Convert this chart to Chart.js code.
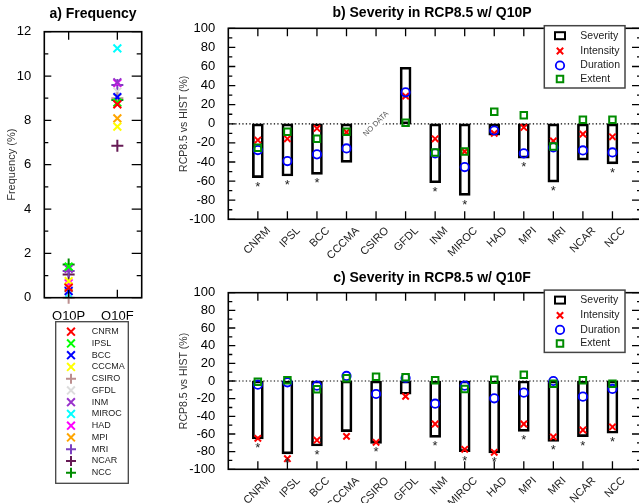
<!DOCTYPE html>
<html><head><meta charset="utf-8">
<script src="https://cdn.jsdelivr.net/npm/chart.js@4/dist/chart.umd.min.js"></script>
<style>
html,body{margin:0;padding:0;overflow:hidden;background:#fff;width:639px;height:503px;}
#wrap{position:absolute;left:0;top:0;width:639px;height:503px;overflow:hidden;background:#fff;}
canvas{position:absolute;}
#ca{left:0;top:0;}
#cb{left:170px;top:0;}
#cc{left:170px;top:265px;}
</style></head><body>
<div id="wrap">
<canvas id="ca" width="165" height="503"></canvas>
<canvas id="cb" width="480" height="270"></canvas>
<canvas id="cc" width="480" height="238"></canvas>
</div>
<script>
// ---------------- data ----------------
const models = ['CNRM','IPSL','BCC','CCCMA','CSIRO','GFDL','INM','MIROC','HAD','MPI','MRI','NCAR','NCC'];
const modelColors = ['#ff0000','#00ff00','#0000ff','#ffff00','#bc8f8f','#dcdcdc','#9932cc','#00ffff','#ff00ff','#ffa500','#7b3fbf','#661a55','#008c00'];
const modelMarkers = ['crossRot','crossRot','crossRot','crossRot','cross','crossRot','crossRot','crossRot','crossRot','crossRot','cross','cross','cross'];

const freqCats = ['Q10P','Q10F'];
const freqQ10P = [0.45, 1.4, 0.3, 0.75, 0.0, 0.35, 1.3, 0.15, 0.65, 0.5, 1.2, 1.05, 1.5];
const freqQ10F = [8.72, 8.8, 9.05, 7.72, 9.0, 9.3, 9.72, 11.25, 9.68, 8.09, 9.6, 6.86, 8.92];

const yTicksFreq = {min:0, max:12, step:2, minor:1};
const yTicksSev = {min:-100, max:100, step:20, minor:10};

// Panel b: Q10P (CSIRO: no data)
const sevP = [-56.4, -54.7, -53.0, -40.4, null, 59.2, -61.7, -75.0, -11.8, -36.0, -61.0, -38.0, -42.0];
const intP = [-17.0, -15.7, -4.9, -8.7, null, 29.0, -15.7, -29.0, -10.0, -3.8, -18.0, -10.8, -13.6];
const durP = [-27.5, -39.0, -32.0, -25.8, null, 33.0, -31.0, -45.3, -7.0, -31.0, -24.7, -27.9, -30.0];
const extP = [-25.0, -8.4, -15.7, -8.4, null, 1.0, -30.0, -29.0, 12.5, 9.0, -23.7, 4.2, 4.2];
const sigP = [1,1,1,0,0,0,1,1,0,1,1,0,1];

// Panel c: Q10F
const sevF = [-65.7, -82.6, -73.6, -57.4, -70.6, -15.0, -63.8, -80.0, -81.5, -57.0, -68.3, -63.0, -59.2];
const intF = [-65.0, -88.0, -67.0, -62.7, -69.4, -17.4, -48.7, -77.4, -80.8, -48.7, -63.4, -55.5, -52.0];
const durF = [-4.2, -1.5, -5.3, 5.7, -14.7, 3.4, -25.7, -5.3, -19.6, -13.2, 0.0, -17.7, -9.0];
const extF = [-0.8, 0.8, -9.4, 3.0, 4.9, 4.2, 0.8, -9.0, 1.5, 7.2, -3.0, 0.8, -3.0];
const sigF = [1,1,1,0,1,0,1,1,1,1,1,1,1];

// ---------------- helpers / plugins ----------------
Chart.defaults.font.family = "'Liberation Sans', Arial, Helvetica, sans-serif";
Chart.defaults.color = '#000';
const FAM = "'Liberation Sans', Arial, Helvetica, sans-serif";
const pad = arr => [null, ...arr, null];

const framePlugin = {
  id: 'frame',
  afterDatasetsDraw(chart, args, o) {
    const {ctx, chartArea: a, scales} = chart;
    const y = scales.y, x = scales.x;
    ctx.save();
    ctx.strokeStyle = '#000';
    ctx.lineWidth = 1.6;
    ctx.strokeRect(a.left, a.top, a.right - a.left, a.bottom - a.top);
    ctx.lineWidth = 1.3;
    ctx.beginPath();
    for (let v = o.min; v <= o.max + 1e-9; v += o.minor) {
      const py = y.getPixelForValue(v);
      const major = Math.abs(Math.round(v / o.step) * o.step - v) < 1e-6;
      const lenL = major ? 7 : 4, lenR = major ? 10 : 5;
      ctx.moveTo(a.left, py); ctx.lineTo(a.left + lenL, py);
      ctx.moveTo(a.right, py); ctx.lineTo(a.right - lenR, py);
    }
    x.ticks.forEach((t, i) => {
      if (!x.getLabelForValue(t.value)) return;
      const px = x.getPixelForTick(i);
      ctx.moveTo(px, a.top); ctx.lineTo(px, a.top + 8);
      ctx.moveTo(px, a.bottom); ctx.lineTo(px, a.bottom - 8);
    });
    ctx.stroke();
    ctx.restore();
  }
};

const titlePlugin = {
  id: 'ptitle',
  afterDraw(chart, args, o) {
    const ctx = chart.ctx;
    ctx.save();
    ctx.font = 'bold 14px ' + FAM;
    ctx.fillStyle = '#000';
    ctx.textAlign = 'center';
    ctx.textBaseline = 'middle';
    ctx.fillText(o.text, o.x, o.y);
    ctx.restore();
  }
};

const zeroPlugin = {
  id: 'zeroLine',
  beforeDatasetsDraw(chart) {
    const {ctx, chartArea: a, scales} = chart;
    const py = scales.y.getPixelForValue(0);
    ctx.save();
    ctx.strokeStyle = '#000';
    ctx.lineWidth = 1.2;
    ctx.setLineDash([1.3, 2.2]);
    ctx.beginPath();
    ctx.moveTo(a.left, py); ctx.lineTo(a.right, py);
    ctx.stroke();
    ctx.restore();
  }
};

const noDataPlugin = {
  id: 'noData',
  afterDatasetsDraw(chart, args, o) {
    const {ctx, scales} = chart;
    o.sev.forEach((v, i) => {
      if (v !== null) return;
      const px = scales.x.getPixelForValue(i + 1);
      const py = scales.y.getPixelForValue(0);
      ctx.save();
      ctx.translate(px, py);
      ctx.rotate(-Math.PI / 4);
      ctx.font = '7.5px ' + FAM;
      const w = ctx.measureText('NO DATA').width;
      ctx.fillStyle = '#fff';
      ctx.fillRect(-w / 2 - 2, -5, w + 4, 10);
      ctx.fillStyle = '#555';
      ctx.textAlign = 'center';
      ctx.textBaseline = 'middle';
      ctx.fillText('NO DATA', 0, 0);
      ctx.restore();
    });
  }
};

const starPlugin = {
  id: 'stars',
  afterDatasetsDraw(chart, args, o) {
    const {ctx} = chart;
    const meta = chart.getDatasetMeta(0);
    ctx.save();
    ctx.font = '13px ' + FAM;
    ctx.fillStyle = '#222';
    ctx.textAlign = 'center';
    ctx.textBaseline = 'top';
    o.sig.forEach((s, i) => {
      if (!s) return;
      const el = meta.data[i + 1];
      if (!el) return;
      const bottom = Math.max(el.y, el.base);
      ctx.fillText('*', el.x, bottom + 3);
    });
    ctx.restore();
  }
};

const sevLegendPlugin = {
  id: 'sevLegend',
  afterDraw(chart, args, o) {
    const {ctx, chartArea: a} = chart;
    const left = o.left, top = a.top + o.dy;
    ctx.save();
    ctx.fillStyle = '#fff';
    ctx.fillRect(left, top, o.w, o.h);
    ctx.strokeStyle = '#444';
    ctx.lineWidth = 1.5;
    ctx.strokeRect(left, top, o.w, o.h);
    chart.data.datasets.forEach((ds, i) => {
      const ry = top + o.rows[i];
      const mx = left + 15.7;
      if (ds.type === 'bar') {
        ctx.strokeStyle = '#000';
        ctx.lineWidth = 2;
        ctx.strokeRect(mx - 5, ry - 3.5, 10, 7);
      } else {
        ctx.strokeStyle = ds.pointBorderColor;
        ctx.fillStyle = 'rgba(0,0,0,0)';
        ctx.lineWidth = ds.pointBorderWidth;
        Chart.helpers.drawPoint(ctx, {pointStyle: ds.pointStyle, radius: ds.pointRadius, borderWidth: ds.pointBorderWidth, rotation: 0}, mx, ry);
      }
      ctx.fillStyle = '#222';
      ctx.font = '10.5px ' + FAM;
      ctx.textAlign = 'left';
      ctx.textBaseline = 'middle';
      ctx.fillText(ds.label, left + 36, ry);
    });
    ctx.restore();
  }
};

const freqLegendPlugin = {
  id: 'freqLegend',
  afterDraw(chart, args, o) {
    const {ctx} = chart;
    ctx.save();
    ctx.fillStyle = '#fff';
    ctx.fillRect(o.left, o.top, o.w, o.h);
    ctx.strokeStyle = '#444';
    ctx.lineWidth = 1.3;
    ctx.strokeRect(o.left, o.top, o.w, o.h);
    chart.data.datasets.forEach((ds, i) => {
      const ry = o.top + 10 + i * 11.75;
      ctx.strokeStyle = ds.pointBorderColor;
      ctx.fillStyle = ds.pointBorderColor;
      ctx.lineWidth = 2;
      const r = ds.pointStyle === 'cross' ? 5 : 5.5;
      Chart.helpers.drawPoint(ctx, {pointStyle: ds.pointStyle, radius: r, borderWidth: 2, rotation: 0}, o.left + 15.3, ry);
      ctx.fillStyle = '#222';
      ctx.font = '9px ' + FAM;
      ctx.textAlign = 'left';
      ctx.textBaseline = 'middle';
      ctx.fillText(ds.label, o.left + 36, ry);
    });
    ctx.restore();
  }
};

// ---------------- panel a ----------------
new Chart(document.getElementById('ca'), {
  type: 'line',
  data: {
    labels: freqCats,
    datasets: models.map((m, i) => ({
      label: m,
      data: [freqQ10P[i], freqQ10F[i]],
      showLine: false,
      pointStyle: modelMarkers[i],
      pointRadius: modelMarkers[i] === 'cross' ? 6 : 5.5,
      pointBorderWidth: 2,
      pointBorderColor: modelColors[i],
      pointBackgroundColor: modelColors[i],
      clip: false
    }))
  },
  options: {
    responsive: false, animation: false, devicePixelRatio: 1,
    layout: {padding: {left: 0, right: 165 - 141.7, top: 31.7, bottom: 503 - 297.7 - 22}},
    plugins: {
      legend: {display: false}, tooltip: {enabled: false},
      frame: yTicksFreq,
      ptitle: {text: 'a) Frequency', x: 93, y: 14},
      freqLegend: {left: 55.7, top: 321.7, w: 72.6, h: 161.6}
    },
    scales: {
      x: {type: 'category', offset: true, grid: {display: false}, border: {display: false},
          ticks: {padding: 3, color: '#000', font: {size: 13}},
          afterFit: s => { s.height = 22; }},
      y: {min: yTicksFreq.min, max: yTicksFreq.max, grid: {display: false}, border: {display: false},
          ticks: {stepSize: yTicksFreq.step, autoSkip: false, padding: 5, color: '#000', font: {size: 13}},
          title: {display: true, text: 'Frequency (%)', color: '#333', font: {size: 11}, padding: {top: 5.4, bottom: 0}},
          afterFit: s => { s.width = 44.3; }}
    }
  },
  plugins: [framePlugin, titlePlugin, freqLegendPlugin]
});

// ---------------- panels b, c ----------------
function severityChart(id, H, top, sev, inten, dur, ext, sig, title) {
  const labels = ['', ...models, ''];
  return new Chart(document.getElementById(id), {
    type: 'bar',
    data: {
      labels,
      datasets: [
        {type: 'bar', label: 'Severity', data: pad(sev), backgroundColor: 'rgba(0,0,0,0)', borderColor: '#000',
         borderWidth: 2, borderSkipped: false, barThickness: 11, order: 10},
        {type: 'line', label: 'Intensity', data: pad(inten), showLine: false, pointStyle: 'crossRot', pointRadius: 4.5,
         pointBorderWidth: 2, pointBorderColor: '#ff0000', pointBackgroundColor: 'rgba(0,0,0,0)', order: 3},
        {type: 'line', label: 'Duration', data: pad(dur), showLine: false, pointStyle: 'circle', pointRadius: 4.2,
         pointBorderWidth: 1.8, pointBorderColor: '#0000ff', pointBackgroundColor: 'rgba(0,0,0,0)', order: 2},
        {type: 'line', label: 'Extent', data: pad(ext), showLine: false, pointStyle: 'rect', pointRadius: 4.6,
         pointBorderWidth: 2, pointBorderColor: '#008c00', pointBackgroundColor: 'rgba(0,0,0,0)', order: 1}
      ]
    },
    options: {
      responsive: false, animation: false, devicePixelRatio: 1,
      layout: {padding: {left: 0, right: 8, top: top, bottom: 0}},
      plugins: {
        legend: {display: false}, tooltip: {enabled: false},
        frame: yTicksSev,
        ptitle: {text: title, x: 262, y: 13},
        noData: {sev},
        stars: {sig},
        sevLegend: {left: 374.3, dy: -2.6, w: 80.7, h: 62.3, rows: [10, 25.3, 39.8, 53.3]}
      },
      scales: {
        x: {type: 'category', offset: false, grid: {display: false}, border: {display: false},
            ticks: {autoSkip: false, minRotation: 45, maxRotation: 45, labelOffset: 11, padding: -3, color: '#222', font: {size: 11}},
            afterFit: s => { s.height = H; }},
        y: {min: yTicksSev.min, max: yTicksSev.max, grid: {display: false}, border: {display: false},
            ticks: {stepSize: yTicksSev.step, autoSkip: false, padding: 5, color: '#000', font: {size: 13}},
            title: {display: true, text: 'RCP8.5 vs HIST (%)', color: '#333', font: {size: 10.5}, padding: {top: 7.4, bottom: 0}},
            afterFit: s => { s.width = 58.3; }}
      }
    },
    plugins: [zeroPlugin, framePlugin, noDataPlugin, starPlugin, titlePlugin, sevLegendPlugin]
  });
}

severityChart('cb', 270 - 219.3, 28.3, sevP, intP, durP, extP, sigP, 'b) Severity in RCP8.5 w/ Q10P');
severityChart('cc', 238 - 204.3, 27.7, sevF, intF, durF, extF, sigF, 'c) Severity in RCP8.5 w/ Q10F');
</script>
</body></html>
